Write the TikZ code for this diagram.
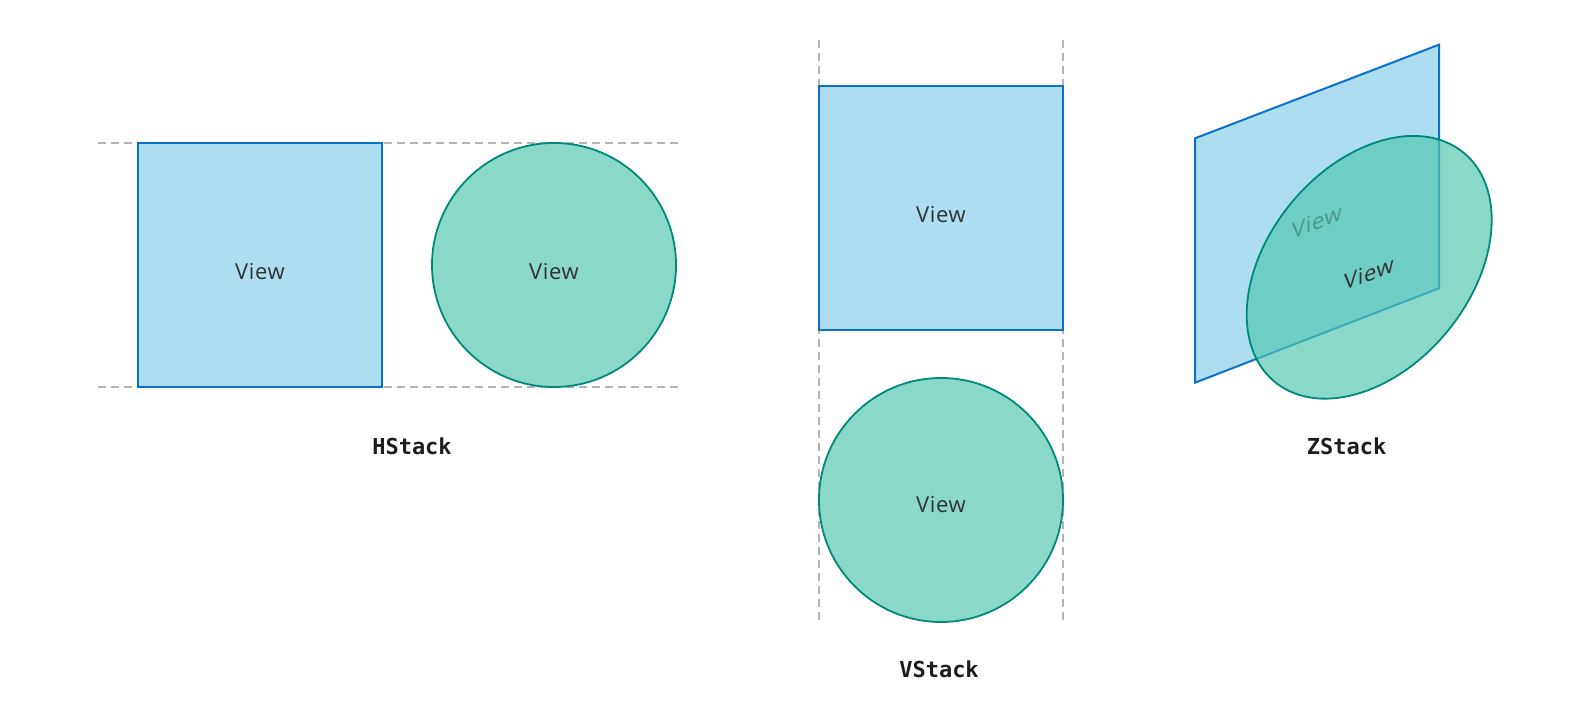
\documentclass[tikz,border=0pt]{standalone}
\usepackage{fontspec}
\setmainfont{Open Sans}[LetterSpace=3]
\newfontfamily\labelfont{DejaVu Sans Mono}
\definecolor{sqfill}{HTML}{ACDEF0}
\definecolor{sqdraw}{HTML}{0A72CC}
\definecolor{cifill}{HTML}{8AD9C8}
\definecolor{cidraw}{HTML}{00897B}
\definecolor{guidegray}{HTML}{B4B4B4}
\definecolor{txt}{HTML}{333333}
\definecolor{ttl}{HTML}{1D1D1F}
\definecolor{zgreen}{RGB}{83,199,174}
\begin{document}
\begin{tikzpicture}[x=1pt,y=1pt,
  sq/.style={draw=sqdraw, fill=sqfill, line width=2pt, rectangle, minimum size=244pt, inner sep=0pt},
  ci/.style={draw=cidraw, fill=cifill, line width=1.8pt, circle, minimum size=244pt, inner sep=0pt},
  guideline/.style={draw=guidegray, line width=1.5pt, dash pattern=on 8pt off 5pt},
  viewtxt/.style={font=\fontsize{22}{26}\selectfont, text=txt, anchor=base, inner sep=0pt},
  slanttxt/.style={font=\fontsize{22}{26}\selectfont, text=txt, anchor=center, inner sep=0pt, yslant=0.387},
  title/.style={font=\labelfont\bfseries\fontsize{22}{26}\selectfont, text=ttl, anchor=base, inner sep=0pt}]
\useasboundingbox (0,0) rectangle (1588,728);
% ---------- HStack ----------
\coordinate (hl1) at (98,585);
\coordinate (hr1) at (678,585);
\coordinate (hl2) at (98,341);
\coordinate (hr2) at (678,341);
\draw[guideline] (hl1) -- (hr1);
\draw[guideline] (hl2) -- (hr2);
\node[sq] (hsq) at (260,463) {};
\node[ci] (hci) at (554,463) {};
\node[viewtxt] (hsqt) at (260,448) {View};
\node[viewtxt] (hcit) at (554,448) {View};
\node[title] (htitle) at (412,273.7) {HStack};
% ---------- VStack ----------
\coordinate (vt1) at (819,687.5);
\coordinate (vb1) at (819,108);
\coordinate (vt2) at (1063,687.5);
\coordinate (vb2) at (1063,108);
\draw[guideline] (vt1) -- (vb1);
\draw[guideline] (vt2) -- (vb2);
\node[sq] (vsq) at (941,520) {};
\node[ci] (vci) at (941,228) {};
\node[viewtxt] (vsqt) at (941,505.3) {View};
\node[viewtxt] (vcit) at (941,215) {View};
\node[title] (vtitle) at (939,50.7) {VStack};
% ---------- ZStack ----------
\coordinate (p1) at (1195,345.3);
\coordinate (p2) at (1439,439.7);
\coordinate (p3) at (1439,683.3);
\coordinate (p4) at (1195,589.7);
\draw[draw=sqdraw, fill=sqfill, line width=2pt, line join=miter] (p1) -- (p2) -- (p3) -- (p4) -- cycle;
\node[slanttxt] (zback) at (1317,506.3) {View};
\begin{scope}[shift={(1369.2,460.7)}, yslant=0.387]
  \fill[zgreen, fill opacity=0.68] (0,0) circle (122.5);
  \draw[cidraw, line width=1.8pt] (0,0) circle (122.5);
\end{scope}
\node[slanttxt] (zfront) at (1369,454.7) {View};
\node[title] (ztitle) at (1346.7,273.7) {ZStack};
\end{tikzpicture}
\end{document}
